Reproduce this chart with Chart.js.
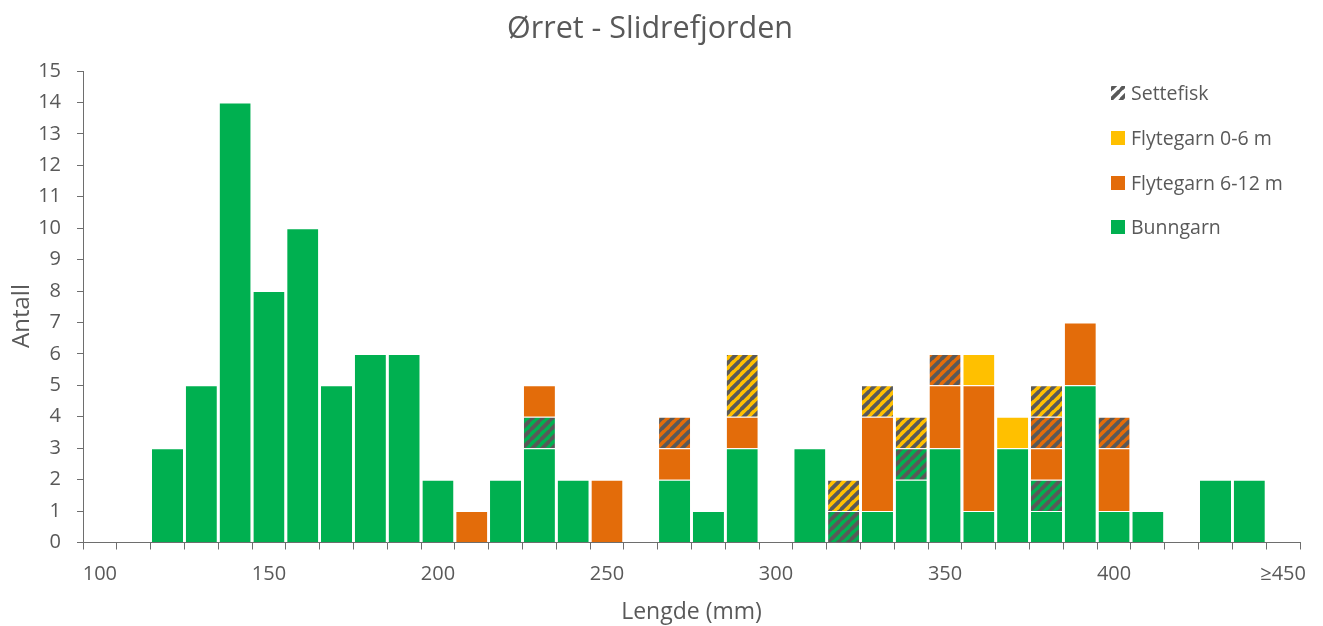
<!DOCTYPE html>
<html>
<head>
<meta charset="utf-8">
<title>Ørret - Slidrefjorden</title>
<script src="https://cdn.jsdelivr.net/npm/chart.js@4.4.1/dist/chart.umd.min.js"></script>
<style>
  html, body { margin: 0; padding: 0; background: #fff; }
  #wrap { width: 1323px; height: 626px; }
</style>
</head>
<body>
<div id="wrap"><canvas id="chart" width="1323" height="626"></canvas></div>
<script>
// Lengdeklasser (10 mm)
const lengthClasses = ['100','110','120','130','140','150','160','170','180','190',
  '200','210','220','230','240','250','260','270','280','290',
  '300','310','320','330','340','350','360','370','380','390',
  '400','410','420','430','440','≥450'];

// Antall per lengdeklasse
const bunngarn =          [null,null,3,5,14,8,10,5,6,6, 2,null,2,3,2,null,null,2,1,3, null,3,null,1,2,3,1,3,1,5, 1,1,null,2,2,null];
const bunngarnSettefisk = [null,null,null,null,null,null,null,null,null,null, null,null,null,1,null,null,null,null,null,null, null,null,1,null,1,null,null,null,1,null, null,null,null,null,null,null];
const flyte612 =          [null,null,null,null,null,null,null,null,null,null, null,1,null,1,null,2,null,1,null,1, null,null,null,3,null,2,4,null,1,2, 2,null,null,null,null,null];
const flyte612Settefisk = [null,null,null,null,null,null,null,null,null,null, null,null,null,null,null,null,null,1,null,null, null,null,null,null,null,1,null,null,1,null, 1,null,null,null,null,null];
const flyte06 =           [null,null,null,null,null,null,null,null,null,null, null,null,null,null,null,null,null,null,null,null, null,null,null,null,null,null,1,1,null,null, null,null,null,null,null,null];
const flyte06Settefisk =  [null,null,null,null,null,null,null,null,null,null, null,null,null,null,null,null,null,null,null,2, null,null,1,1,1,null,null,null,1,null, null,null,null,null,null,null];

const legendLabels = ['Settefisk', 'Flytegarn 0-6 m', 'Flytegarn 6-12 m', 'Bunngarn'];

const GREEN = '#00B050', ORANGE = '#E36C0A', YELLOW = '#FFC000', TEXT = '#595959', AXIS = '#6e6e6e';
const FONT = "'Open Sans', 'DejaVu Sans', sans-serif";

const ctx = document.getElementById('chart').getContext('2d');

// skravert mønster for settefisk
function hatch(base){
  const s = 10.5;
  const c = document.createElement('canvas');
  c.width = s; c.height = s;
  const g = c.getContext('2d');
  g.fillStyle = base; g.fillRect(0, 0, s, s);
  g.strokeStyle = '#595959'; g.lineWidth = 3.8;
  g.beginPath();
  g.moveTo(-2, s + 2); g.lineTo(s + 2, -2);
  g.moveTo(-2, 2); g.lineTo(2, -2);
  g.moveTo(s - 2, s + 2); g.lineTo(s + 2, s - 2);
  g.stroke();
  return ctx.createPattern(c, 'repeat');
}

function ds(label, data, color){
  return { label: label, data: data, backgroundColor: color,
    borderColor: 'rgba(255,255,255,0.8)', borderWidth: { top: 1, left: 0, right: 0, bottom: 0 },
    borderSkipped: false, categoryPercentage: 1, barPercentage: 0.92 };
}

// legende inne i plottet + y-aksetittel
const legendPlugin = {
  id: 'innerLegend',
  afterDraw(chart){
    const c = chart.ctx;
    const fills = [hatch('#ffffff'), YELLOW, ORANGE, GREEN];
    const ys = [93, 138, 183, 227];
    c.save();
    c.font = '19.5px ' + FONT;
    c.textBaseline = 'middle';
    legendLabels.forEach((t, i) => {
      c.fillStyle = fills[i];
      c.fillRect(1111, ys[i] - 7, 14, 14);
      c.fillStyle = TEXT;
      c.fillText(t, 1131, ys[i] + 1);
    });
    c.translate(22, 316);
    c.rotate(-Math.PI / 2);
    c.textAlign = 'center';
    c.font = '24px ' + FONT;
    c.fillStyle = TEXT;
    c.fillText('Antall', 0, 0);
    c.restore();
  }
};

new Chart(ctx, {
  type: 'bar',
  data: {
    labels: lengthClasses,
    datasets: [
      ds('Bunngarn', bunngarn, GREEN),
      ds('Bunngarn settefisk', bunngarnSettefisk, hatch(GREEN)),
      ds('Flytegarn 6-12 m', flyte612, ORANGE),
      ds('Flytegarn 6-12 m settefisk', flyte612Settefisk, hatch(ORANGE)),
      ds('Flytegarn 0-6 m', flyte06, YELLOW),
      ds('Flytegarn 0-6 m settefisk', flyte06Settefisk, hatch(YELLOW))
    ]
  },
  options: {
    responsive: false,
    animation: false,
    layout: { padding: { top: 0, left: 0, right: 23, bottom: 0 } },
    plugins: {
      legend: { display: false },
      tooltip: { enabled: false },
      title: {
        display: true, text: 'Ørret - Slidrefjorden', color: TEXT,
        font: { family: FONT, size: 30.5, weight: 'normal' },
        padding: { top: 11, bottom: 23.4 }
      }
    },
    scales: {
      x: {
        stacked: true,
        offset: true,
        afterFit: s => { s.height = 83.5; },
        grid: { display: true, drawOnChartArea: false, offset: true, tickLength: 7, color: AXIS },
        border: { color: AXIS, width: 1 },
        ticks: {
          autoSkip: false, maxRotation: 0, minRotation: 0, padding: 13, color: TEXT,
          font: { family: FONT, size: 20 },
          callback: (v, i) => (i % 5 === 0 ? lengthClasses[i] : '')
        },
        title: { display: true, text: 'Lengde (mm)', color: TEXT, font: { family: FONT, size: 23 }, padding: { top: 0, bottom: 0 } }
      },
      y: {
        stacked: true,
        min: 0, max: 15,
        afterFit: s => { s.width = 83; },
        grid: { display: true, drawOnChartArea: false, tickLength: 6, color: AXIS },
        border: { color: AXIS, width: 1 },
        ticks: { stepSize: 1, padding: 16, color: TEXT, font: { family: FONT, size: 20 } }
      }
    }
  },
  plugins: [legendPlugin]
});
</script>
</body>
</html>
